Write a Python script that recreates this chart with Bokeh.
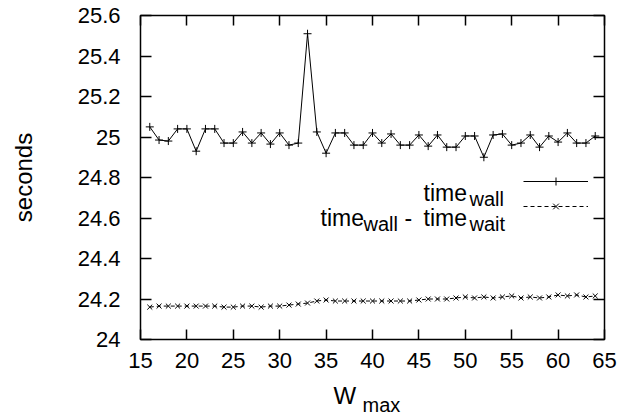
from bokeh.plotting import figure
from bokeh.models import (Range1d, SingleIntervalTicker, LinearAxis, CustomJSTickFormatter,
                          Legend, LegendItem, Label, ColumnDataSource)
from bokeh.embed import file_html
from bokeh.resources import INLINE

w_max = list(range(16, 65))
time_wall = [25.05, 24.985, 24.98, 25.04, 25.04, 24.93, 25.04, 25.04, 24.97, 24.97,
             25.025, 24.97, 25.02, 24.965, 25.02, 24.96, 24.97, 25.51, 25.025, 24.92,
             25.02, 25.02, 24.96, 24.96, 25.02, 24.97, 25.015, 24.96, 24.96, 25.01,
             24.955, 25.01, 24.95, 24.95, 25.005, 25.005, 24.9, 25.01, 25.015, 24.96,
             24.97, 25.01, 24.95, 25.005, 24.975, 25.02, 24.97, 24.97, 25.005]
time_wall_minus_wait = [24.16, 24.165, 24.165, 24.165, 24.165, 24.165, 24.165, 24.165, 24.16, 24.16,
                        24.165, 24.165, 24.16, 24.165, 24.165, 24.17, 24.175, 24.18, 24.19, 24.195,
                        24.19, 24.19, 24.19, 24.19, 24.19, 24.19, 24.19, 24.19, 24.19, 24.195,
                        24.2, 24.2, 24.2, 24.205, 24.21, 24.205, 24.21, 24.205, 24.21, 24.215,
                        24.205, 24.21, 24.205, 24.21, 24.22, 24.215, 24.22, 24.21, 24.215]

FONT = "Liberation Sans"
TICK = "22px"
MAIN = "23px"
SUB = "20px"

src = ColumnDataSource(dict(x=w_max, a=time_wall, b=time_wall_minus_wait))

p = figure(width=632, height=419, output_backend="svg", toolbar_location=None,
           x_range=Range1d(15, 65), y_range=Range1d(24, 25.6),
           min_border_left=140, min_border_right=28, min_border_top=15, min_border_bottom=76,
           x_axis_location=None, y_axis_location=None)
p.grid.visible = False
p.outline_line_color = "black"
p.outline_line_width = 1.5
p.background_fill_color = "white"
p.border_fill_color = "white"

fmt = CustomJSTickFormatter(code="return String(Math.round(tick*10)/10);")

def make_axis(ticker, labels=True, tick_in=10):
    ax = LinearAxis(ticker=ticker, formatter=fmt)
    ax.axis_line_color = None
    ax.major_tick_in = tick_in
    ax.major_tick_out = 0
    ax.major_tick_line_width = 1.5
    ax.minor_tick_line_color = None
    ax.major_label_text_font = FONT
    ax.major_label_text_font_size = TICK
    if labels:
        ax.major_label_text_color = "#000000"
    else:
        ax.major_label_text_color = None
        ax.major_label_standoff = 0
    return ax

xb = make_axis(SingleIntervalTicker(interval=5), True, 10)
xb.major_label_standoff = 9
p.add_layout(xb, "below")
xa = make_axis(SingleIntervalTicker(interval=5), False, 10)
p.add_layout(xa, "above")

yl = make_axis(SingleIntervalTicker(interval=0.2), True, 11)
yl.major_label_standoff = 16
yl.axis_label = "seconds"
yl.axis_label_text_font = FONT
yl.axis_label_text_font_size = "24px"
yl.axis_label_text_font_style = "normal"
yl.axis_label_text_color = "#000000"
yl.axis_label_standoff = 38
p.add_layout(yl, "left")
yr = make_axis(SingleIntervalTicker(interval=0.2), False, 11)
p.add_layout(yr, "right")

l1 = p.line("x", "a", source=src, line_color="black", line_width=1)
s1 = p.scatter("x", "a", source=src, marker="cross", size=8, line_color="black", line_width=1)
l2 = p.line("x", "b", source=src, line_color="black", line_width=1, line_dash="4 3")
s2 = p.scatter("x", "b", source=src, marker="x", size=7, line_color="black", line_width=1)

legend = Legend(items=[LegendItem(label=" ", renderers=[l1, s1]),
                       LegendItem(label=" ", renderers=[l2, s2])],
                location=(383, 123), glyph_width=65, glyph_height=20, label_height=20,
                label_width=1, label_standoff=0, spacing=5, padding=0, margin=0,
                label_text_font_size="1px", label_text_color=None, label_text_alpha=0,
                border_line_color=None, background_fill_alpha=0)
p.add_layout(legend, "center")

def lab(text, x, y, size, place="center"):
    p.add_layout(Label(x=x, y=y, x_units="canvas", y_units="canvas", text=text,
                       text_font=FONT, text_font_size=size, text_color="black",
                       text_baseline="alphabetic", text_align="left"), place)

# legend texts
lab("time", 423, 192, MAIN)
lab("wall", 469, 198, SUB)
lab("time", 320, 217, MAIN)
lab("wall", 363, 223, SUB)
lab("-", 404, 217, MAIN)
lab("time", 423, 217, MAIN)
lab("wait", 469, 223, SUB)
# x axis label
lab("W", 333, 395, "24px", "below")
lab("max", 362, 404, "20px", "below")

open("out.html", "w").write(file_html(p, INLINE))
